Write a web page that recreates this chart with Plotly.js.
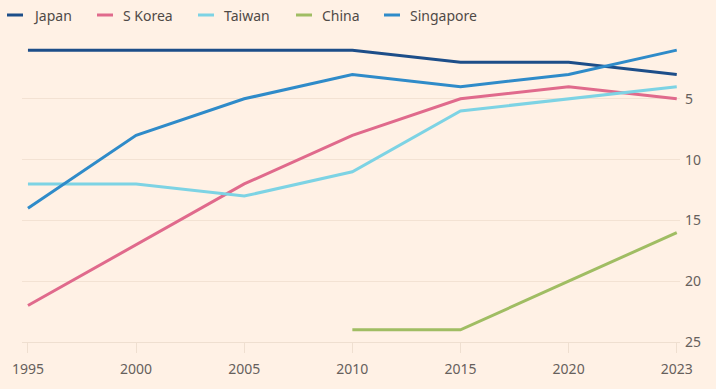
<!DOCTYPE html>
<html>
<head>
<meta charset="utf-8">
<script src="https://cdn.plot.ly/plotly-3.0.1.min.js"></script>
<style>html,body{margin:0;padding:0;background:#fff1e5;}#chart{width:716px;height:389px;}</style>
</head>
<body>
<div id="chart"></div>
<script>
const years = ["1995", "2000", "2005", "2010", "2015", "2020", "2023"];
const japan = [1, 1, 1, 1, 2, 2, 3];
const sKorea = [22, 17, 12, 8, 5, 4, 5];
const taiwan = [12, 12, 13, 11, 6, 5, 4];
const china = [null, null, null, 24, 24, 20, 16];
const singapore = [14, 8, 5, 3, 4, 3, 1];
const yTicks = [5, 10, 15, 20, 25];

const series = [
  {name: "Japan", y: japan, color: "#1d4e89"},
  {name: "S Korea", y: sKorea, color: "#e06a8c"},
  {name: "Taiwan", y: taiwan, color: "#7dd3e4"},
  {name: "China", y: china, color: "#a0bd63"},
  {name: "Singapore", y: singapore, color: "#2f8bc9"}
];

const font = "'Noto Sans', sans-serif";
const traces = series.map(s => ({
  type: "scatter", mode: "lines", name: s.name, x: years, y: s.y,
  line: {color: s.color, width: 3}, connectgaps: false, hoverinfo: "skip", showlegend: false
}));

// plot area geometry (pixels)
const W = 716, H = 389, mL = 22, mR = 36, mT = 38, mB = 47;
const pw = W - mL - mR, ph = H - mT - mB;
const px = v => (v - mL) / pw;
const py = v => (H - mB - v) / ph;

// custom legend (short line keys like the original)
const legendLeft = [7, 97, 198, 296, 384];
const legendY = 15;
const shapes = [], annotations = [];
series.forEach((s, i) => {
  shapes.push({type: "line", xref: "paper", yref: "paper",
    x0: px(legendLeft[i]), x1: px(legendLeft[i] + 16), y0: py(legendY), y1: py(legendY),
    line: {color: s.color, width: 3}});
  annotations.push({xref: "paper", yref: "paper", x: px(legendLeft[i] + 24), y: py(legendY),
    xanchor: "left", yanchor: "middle", text: s.name, showarrow: false,
    font: {family: font, size: 14, color: "#4f4a47"}});
});

const layout = {
  width: W, height: H,
  paper_bgcolor: "#fff1e5", plot_bgcolor: "#fff1e5",
  margin: {l: mL, r: mR, t: mT, b: mB},
  font: {family: font, size: 13, color: "#66605c"},
  showlegend: false,
  shapes: shapes, annotations: annotations,
  xaxis: {type: "category", range: [-0.055, 6.03], showgrid: false, zeroline: false,
    showline: true, linecolor: "#efdfd0", linewidth: 1,
    ticks: "outside", ticklen: 10, tickcolor: "#efdfd0", ticklabelstandoff: 4,
    tickfont: {family: font, size: 14, color: "#66605c"}, fixedrange: true},
  yaxis: {autorange: false, range: [25, 0], side: "right", tickvals: yTicks,
    ticktext: yTicks.map(String), showgrid: true, gridcolor: "#f3e2d3", zeroline: false,
    showline: false, ticks: "", ticklabelstandoff: 4,
    tickfont: {family: font, size: 14, color: "#66605c"}, fixedrange: true}
};

Plotly.newPlot("chart", traces, layout, {staticPlot: true, displayModeBar: false});
</script>
</body>
</html>
